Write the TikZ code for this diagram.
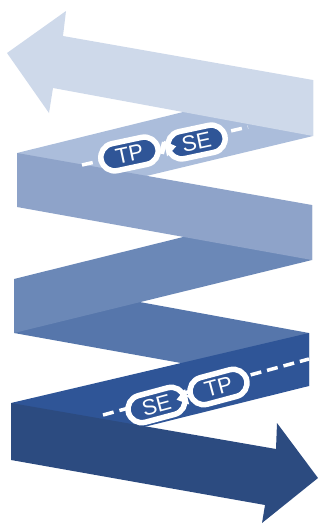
\documentclass[tikz,border=0pt]{standalone}
\usepackage{fontspec}
\setsansfont{Liberation Sans}
\usetikzlibrary{calc}
\definecolor{ribA}{HTML}{CED9EA}
\definecolor{ribB}{HTML}{ABBDDB}
\definecolor{ribC}{HTML}{8EA3C9}
\definecolor{ribD}{HTML}{6B88B7}
\definecolor{ribE}{HTML}{5676AB}
\definecolor{ribF}{HTML}{2F5597}
\definecolor{ribG}{HTML}{2C4B80}
\begin{document}
\begin{tikzpicture}[x=1pt,y=-1pt,
  tag/.style={fill=ribF,draw=white,line width=5.5pt,rounded corners=13.75pt,minimum width=58pt,minimum height=27.5pt,inner sep=0pt,text=white,font=\sffamily\fontsize{22}{22}\selectfont},
  dashline/.style={white,line width=3.5pt,dash pattern=on 11pt off 6pt}]
\useasboundingbox (0,0) rectangle (321,525);
% lower turns (behind)
\fill[ribE] (14,279) -- (309,333) -- (309,386) -- (14,333) -- cycle;
\fill[ribF] (309,333) -- (309,386) -- (11,460) -- (11,403) -- cycle;
% bottom arrow
\fill[ribG] (11,403) -- (276,449) -- (277,423) -- (318,478) -- (262,523) -- (265,505) -- (11,460) -- cycle;
% middle turns
\fill[ribD] (312,205) -- (312,260) -- (14,333) -- (14,279) -- cycle;
\fill[ribB] (17,153) -- (313,80) -- (313,136) -- (17,207) -- cycle;
\fill[ribC] (17,153) -- (312,205) -- (312,260) -- (17,207) -- cycle;
% top arrow
\fill[ribA] (7,53) -- (66,11) -- (63,36) -- (313,80) -- (313,136) -- (53,88) -- (49,113) -- cycle;
% dashed guide lines
\coordinate (d1a) at (82,165);
\coordinate (d1b) at (248,127);
\coordinate (d2a) at (103,415);
\coordinate (d2b) at (309,359);
\draw[dashline] (d1a) -- (d1b);
\draw[dashline] (d2a) -- (d2b);
% upper pair
\node[tag,rotate=12] (tp1) at (129.5,154) {TP};
\node[tag,rotate=12] (se1) at (196.5,142) {SE};
\draw[white,line width=12pt] (tp1.east) -- (se1.west);
\fill[white] ($(se1.west)!8pt!90:(se1.east)$) -- ($(se1.west)!11pt!(se1.east)$) -- ($(se1.west)!8pt!-90:(se1.east)$) -- cycle;
% lower pair
\node[tag,rotate=15] (se2) at (156.5,405) {SE};
\node[tag,rotate=15] (tp2) at (218.5,387) {TP};
\draw[white,line width=12pt] (se2.east) -- (tp2.west);
\fill[white] ($(se2.east)!8pt!90:(se2.west)$) -- ($(se2.east)!11pt!(se2.west)$) -- ($(se2.east)!8pt!-90:(se2.west)$) -- cycle;
\end{tikzpicture}
\end{document}
